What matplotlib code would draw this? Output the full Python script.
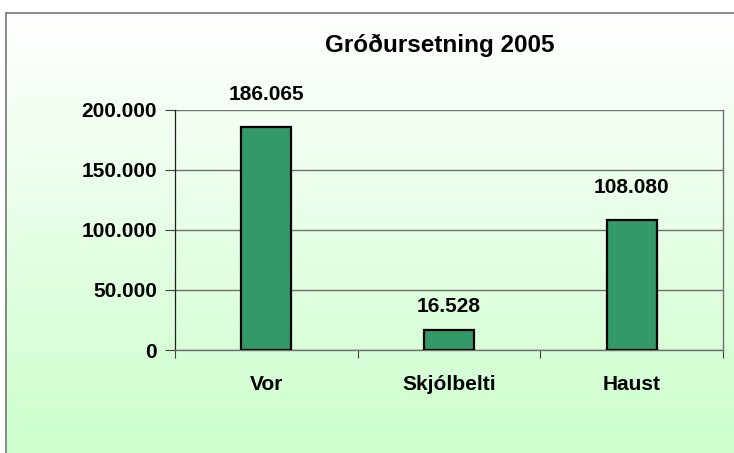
import matplotlib
matplotlib.use("Agg")
import matplotlib.pyplot as plt
import numpy as np
from matplotlib.colors import LinearSegmentedColormap
from matplotlib.patches import Rectangle

categories = ["Vor", "Skjólbelti", "Haust"]
values = [186065, 16528, 108080]
yticks = [0, 50000, 100000, 150000, 200000]
ytick_labels = ["0", "50.000", "100.000", "150.000", "200.000"]
title = "Gróðursetning 2005"

plt.rcParams['font.family'] = ['Liberation Sans', 'DejaVu Sans']

W, H = 734, 453
fig = plt.figure(figsize=(W / 100, H / 100), dpi=100)
fig.patch.set_facecolor("white")

# gradient background inside the border
bl, bt = 6, 13
bg = fig.add_axes([bl / W, 0, 1 - bl / W, 1 - bt / H], zorder=0)
cmap = LinearSegmentedColormap.from_list("g", ["#ffffff", "#ccffcc"])
grad = np.linspace(0, 1, 256).reshape(-1, 1)
bg.imshow(grad, aspect="auto", cmap=cmap, extent=[0, 1, 0, 1], origin="upper")
bg.set_axis_off()
fig.add_artist(Rectangle((bl / W, -0.1), 1.2, 1 - bt / H + 0.1, transform=fig.transFigure,
                         fill=False, edgecolor="#808080", linewidth=1.3, zorder=1))

ax = fig.add_axes([175 / W, 1 - 350 / H, (723 - 175) / W, (350 - 110) / H], zorder=2)
ax.patch.set_alpha(0)

x = np.arange(len(categories))
ax.bar(x, values, width=0.275, color="#339966", edgecolor="black", linewidth=1.6, zorder=3)

ax.set_xlim(-0.5, 2.5)
ax.set_ylim(0, 200000)
ax.set_yticks(yticks)
ax.set_yticklabels(ytick_labels)
ax.yaxis.grid(True, color="#707070", linewidth=1.0, zorder=0)
ax.set_axisbelow(True)

ax.set_xticks(np.arange(-0.5, len(categories), 1.0))
ax.set_xticklabels([])
ax.set_xticks(x, minor=True)
ax.set_xticklabels(categories, minor=True)
ax.tick_params(axis="x", which="major", length=6, width=0.8, color="#404040", direction="out")
ax.tick_params(axis="x", which="minor", length=0, pad=18, labelsize=15)
ax.tick_params(axis="y", length=7, width=0.8, color="#404040", pad=6, labelsize=15)
for lab in ax.get_xticklabels(minor=True) + ax.get_yticklabels():
    lab.set_fontweight("bold")

ax.spines["top"].set_visible(False)
ax.spines["left"].set_color("#202020")
ax.spines["left"].set_linewidth(0.9)
ax.spines["bottom"].set_color("#707070")
ax.spines["bottom"].set_linewidth(1.0)
ax.spines["right"].set_color("#707070")
ax.spines["right"].set_linewidth(1.0)

pads = [23, 14, 23]
for xi, v, p in zip(x, values, pads):
    ax.annotate(f"{v:,}".replace(",", "."), (xi, v), xytext=(0, p * 0.72), textcoords="offset points",
                ha="center", va="bottom", fontsize=15, fontweight="bold")

fig.text(440 / W, 1 - 45 / H, title, ha="center", va="center", fontsize=17.5, fontweight="bold")

fig.savefig("out.png", dpi=100)
